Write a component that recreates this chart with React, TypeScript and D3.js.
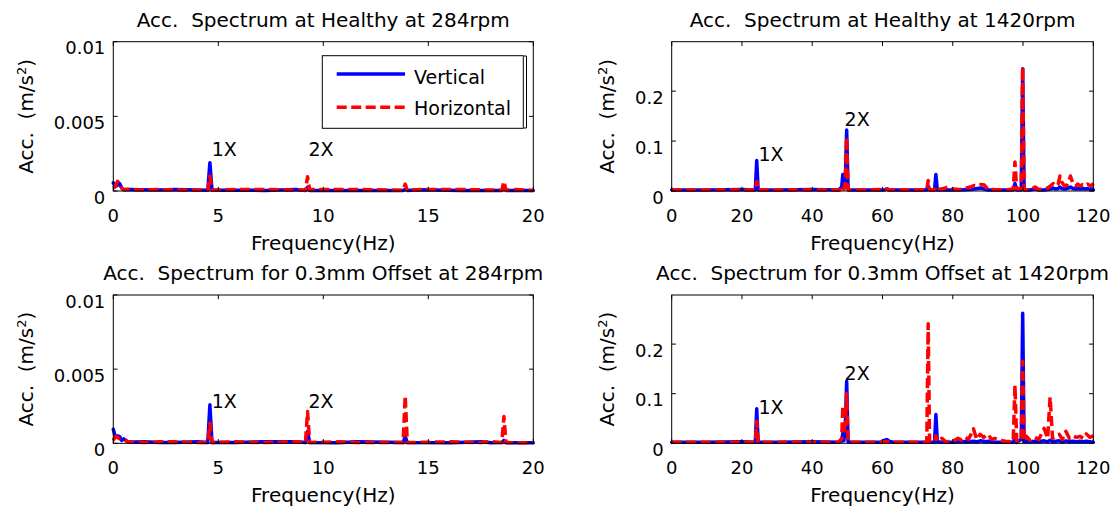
import React from 'react';
import * as d3 from 'd3';

const FONT = '"DejaVu Sans", Arial, sans-serif';

// ---------- text ----------
const titleHealthy284 = 'Acc.  Spectrum at Healthy at 284rpm';
const titleHealthy1420 = 'Acc.  Spectrum at Healthy at 1420rpm';
const titleOffset284 = 'Acc.  Spectrum for 0.3mm Offset at 284rpm';
const titleOffset1420 = 'Acc.  Spectrum for 0.3mm Offset at 1420rpm';
const xLabelText = 'Frequency(Hz)';
const legendLabels = ['Vertical', 'Horizontal'];
const harmonicLabels = ['1X', '2X'];

// ---------- axes ----------
const xDomain284 = [0, 20];
const yDomain284 = [0, 0.01];
const xTicks284 = [0, 5, 10, 15, 20];
const yTicks284 = [0, 0.005, 0.01];
const yTickLabels284 = ['0', '0.005', '0.01'];

const xDomain1420 = [0, 120];
const yDomain1420 = [0, 0.299];
const xTicks1420 = [0, 20, 40, 60, 80, 100, 120];
const yTicks1420 = [0, 0.1, 0.2];
const yTickLabels1420 = ['0', '0.1', '0.2'];

// ---------- data: Healthy 284 rpm ----------
const healthy284Freq = [0, 0.1, 0.2, 0.3, 0.4, 0.5, 0.8, 1.2, 2.2, 2.9, 4.5, 4.6, 4.7, 5.8, 7.2, 8.7, 9.15, 9.25, 9.35, 11.8, 13.8, 13.9, 14.0, 14.6, 16.6, 18.5, 18.6, 18.7, 19.2, 20];
const healthy284Vert = [0.00055, 0.0003, 0.0004, 0.0005, 0.0002, 0.00008, 0.0001, 0.00008, 0.00006, 0.0001, 0.00005, 0.0019, 0.00005, 0.00005, 0.00004, 0.0001, 0.00004, 0.00025, 0.00004, 0.00004, 0.00004, 0.0001, 0.00004, 0.00008, 0.00004, 0.00004, 0.00025, 0.00004, 0.00004, 0.00003];
const healthy284Horz = [0.0002, 0.0003, 0.00065, 0.0005, 0.0002, 0.0001, 0.00012, 0.00006, 0.0001, 0.00006, 0.00005, 0.001, 0.00005, 0.0001, 0.0001, 0.00005, 0.00005, 0.00095, 0.0001, 0.0001, 0.00005, 0.00046, 0.00005, 0.0001, 0.0001, 0.00005, 0.00064, 0.00005, 0.0001, 0.00003];
const healthy284HarmFreq = [4.69, 9.29];
const healthy284HarmAmp = [0.00232, 0.00232];

// ---------- data: Offset 284 rpm ----------
const offset284Freq = [0, 0.1, 0.2, 0.3, 0.4, 0.5, 0.7, 1.0, 1.5, 2.2, 2.9, 4.0, 4.5, 4.6, 4.7, 5.8, 7.1, 8.7, 9.15, 9.25, 9.35, 10.7, 11.6, 13.8, 13.9, 14.0, 16.1, 17.5, 18.0, 18.5, 18.6, 18.7, 20];
const offset284Vert = [0.00095, 0.0004, 0.0005, 0.00045, 0.0002, 0.0003, 0.0001, 0.00008, 0.0001, 0.00006, 0.00006, 0.0001, 0.00005, 0.0026, 0.00005, 0.00005, 0.0001, 0.0001, 0.00005, 0.0008, 0.00005, 0.00004, 0.0001, 0.00005, 0.00046, 0.00005, 0.00004, 0.0001, 0.00004, 0.00005, 0.0002, 0.00004, 0.00003];
const offset284Horz = [0.0002, 0.00046, 0.0004, 0.0003, 0.0003, 0.00025, 0.0001, 0.00008, 0.00005, 0.0001, 0.0001, 0.00005, 0.00005, 0.00136, 0.00005, 0.0001, 0.00005, 0.0001, 0.00005, 0.00214, 0.00005, 0.0001, 0.00005, 0.00005, 0.0032, 0.00005, 0.0001, 0.00005, 0.00012, 0.00005, 0.0018, 0.00005, 0.00003];
const offset284HarmFreq = [4.69, 9.29];
const offset284HarmAmp = [0.00237, 0.00237];

// ---------- data: Healthy 1420 rpm ----------
const healthy1420Freq = [0, 10, 20, 23.8, 24.2, 24.6, 30, 40, 47.5, 48.4, 48.7, 49.0, 49.4, 49.8, 50.2, 51, 55, 60.5, 61.2, 62, 70, 72.6, 73.0, 73.4, 74.8, 75.2, 75.6, 77.5, 78.5, 79.5, 82, 85, 86, 87, 88, 89, 90, 95, 97.2, 97.7, 98.2, 99.5, 99.9, 100.3, 102, 103.4, 104.5, 106, 107, 107.8, 108.6, 109.2, 110, 110.5, 111, 111.8, 112.5, 113, 113.5, 114.2, 115, 115.6, 116.3, 117, 117.7, 118.4, 119.1, 119.6, 120];
const healthy1420Vert = [0.002, 0.002, 0.003, 0.002, 0.061, 0.002, 0.002, 0.003, 0.002, 0.008, 0.033, 0.005, 0.02, 0.122, 0.003, 0.002, 0.002, 0.002, 0.004, 0.002, 0.002, 0.002, 0.01, 0.002, 0.002, 0.033, 0.002, 0.002, 0.002, 0.002, 0.002, 0.003, 0.004, 0.005, 0.006, 0.004, 0.002, 0.002, 0.002, 0.015, 0.002, 0.002, 0.245, 0.002, 0.002, 0.004, 0.002, 0.002, 0.003, 0.004, 0.006, 0.004, 0.005, 0.008, 0.005, 0.004, 0.005, 0.006, 0.008, 0.005, 0.004, 0.005, 0.004, 0.005, 0.004, 0.005, 0.003, 0.004, 0.002];
const healthy1420Horz = [0.002, 0.002, 0.002, 0.002, 0.019, 0.002, 0.002, 0.002, 0.002, 0.003, 0.01, 0.004, 0.015, 0.108, 0.002, 0.002, 0.002, 0.003, 0.004, 0.002, 0.002, 0.002, 0.021, 0.002, 0.002, 0.008, 0.003, 0.005, 0.008, 0.004, 0.003, 0.008, 0.011, 0.01, 0.013, 0.012, 0.003, 0.002, 0.004, 0.058, 0.004, 0.004, 0.248, 0.003, 0.002, 0.008, 0.003, 0.004, 0.006, 0.01, 0.015, 0.01, 0.014, 0.03, 0.018, 0.01, 0.012, 0.02, 0.03, 0.015, 0.01, 0.014, 0.01, 0.013, 0.011, 0.014, 0.01, 0.012, 0.015];
const healthy1420HarmFreq = [24.7, 49.2];
const healthy1420HarmAmp = [0.0598, 0.13];

// ---------- data: Offset 1420 rpm ----------
const offset1420Freq = [0, 10, 20, 23.8, 24.2, 24.6, 30, 40, 47.5, 48.4, 48.7, 49.0, 49.4, 49.8, 50.2, 51, 55, 59.5, 60.5, 61.2, 62, 63, 70, 72.6, 73.0, 73.4, 74.8, 75.2, 75.6, 76.9, 78, 80, 81.5, 82.5, 83.5, 84.5, 85.9, 86.8, 87.8, 88.8, 89.5, 90.1, 91, 92, 93.5, 95, 96.5, 97.2, 97.7, 98.2, 99.5, 99.9, 100.3, 101, 102, 103.4, 104.5, 106, 107, 107.7, 108.4, 109.3, 110.3, 111.2, 112.2, 113.2, 114.2, 115.2, 116.2, 117.2, 118, 119, 120];
const offset1420Vert = [0.002, 0.002, 0.003, 0.002, 0.0695, 0.002, 0.002, 0.003, 0.002, 0.005, 0.02, 0.005, 0.03, 0.125, 0.003, 0.002, 0.002, 0.002, 0.006, 0.0075, 0.004, 0.002, 0.002, 0.002, 0.005, 0.002, 0.002, 0.058, 0.003, 0.002, 0.002, 0.002, 0.003, 0.004, 0.003, 0.003, 0.004, 0.003, 0.005, 0.004, 0.003, 0.004, 0.003, 0.002, 0.002, 0.002, 0.002, 0.002, 0.01, 0.002, 0.008, 0.262, 0.003, 0.003, 0.003, 0.004, 0.003, 0.005, 0.003, 0.006, 0.003, 0.004, 0.005, 0.003, 0.005, 0.003, 0.004, 0.003, 0.004, 0.003, 0.004, 0.003, 0.002];
const offset1420Horz = [0.002, 0.002, 0.002, 0.002, 0.0446, 0.002, 0.002, 0.002, 0.002, 0.01, 0.076, 0.02, 0.04, 0.1, 0.003, 0.002, 0.002, 0.002, 0.003, 0.003, 0.002, 0.002, 0.002, 0.002, 0.241, 0.003, 0.003, 0.015, 0.004, 0.01, 0.003, 0.004, 0.01, 0.006, 0.012, 0.008, 0.029, 0.008, 0.018, 0.012, 0.015, 0.018, 0.008, 0.01, 0.006, 0.004, 0.003, 0.004, 0.117, 0.005, 0.005, 0.165, 0.004, 0.014, 0.006, 0.012, 0.008, 0.03, 0.01, 0.093, 0.01, 0.015, 0.018, 0.008, 0.024, 0.01, 0.015, 0.012, 0.014, 0.01, 0.019, 0.012, 0.015];
const offset1420HarmFreq = [24.7, 49.2];
const offset1420HarmAmp = [0.059, 0.127];

// ---------- layout ----------
const COLS = [
  { left: 113.3, right: 533.3, yLabelX: 33.3 },
  { left: 671.7, right: 1093.3, yLabelX: 614 },
];
const ROWS = [
  { top: 41.7, bottom: 191 },
  { top: 295, bottom: 443.3 },
];
const BLUE = '#0000ff';
const RED = '#ff0000';
const LW = 3.5;
const DASH = '10,4.5';
const TICK = 4.2;

type PanelProps = {
  col: typeof COLS[0];
  row: typeof ROWS[0];
  title: string;
  xDomain: number[];
  yDomain: number[];
  xTicks: number[];
  yTicks: number[];
  yTickLabels: string[];
  freq: number[];
  vert: number[];
  horz: number[];
  harmFreq: number[];
  harmAmp: number[];
  legend?: boolean;
};

function Panel(p: PanelProps) {
  const { col, row } = p;
  const x = d3.scaleLinear().domain(p.xDomain).range([col.left, col.right]);
  const y = d3.scaleLinear().domain(p.yDomain).range([row.bottom, row.top]);
  const line = d3
    .line<number>()
    .x((_, i) => x(p.freq[i]))
    .y((d) => y(d));
  const cx = (col.left + col.right) / 2;
  const cy = (row.top + row.bottom) / 2;
  return (
    <g>
      <text x={cx} y={row.top - 15} textAnchor="middle" fontSize={20} style={{ whiteSpace: 'pre' }}>
        {p.title}
      </text>
      <path d={line(p.vert) || ''} fill="none" stroke={BLUE} strokeWidth={LW} strokeLinejoin="round" strokeLinecap="round" />
      <path d={line(p.horz) || ''} fill="none" stroke={RED} strokeWidth={LW} strokeLinejoin="round" strokeDasharray={DASH} />
      {p.harmFreq.map((f, i) => (
        <text key={'h' + i} x={x(f)} y={y(p.harmAmp[i])} fontSize={19}>
          {harmonicLabels[i]}
        </text>
      ))}
      <rect x={col.left} y={row.top} width={col.right - col.left} height={row.bottom - row.top} fill="none" stroke="#000" strokeWidth={1} />
      {p.xTicks.map((t) => (
        <g key={'xt' + t}>
          <line x1={x(t)} x2={x(t)} y1={row.bottom} y2={row.bottom - TICK} stroke="#000" />
          <line x1={x(t)} x2={x(t)} y1={row.top} y2={row.top + TICK} stroke="#000" />
          <text x={x(t)} y={row.bottom + 31} textAnchor="middle" fontSize={18}>
            {t}
          </text>
        </g>
      ))}
      {p.yTicks.map((t, i) => (
        <g key={'yt' + i}>
          <line x1={col.left} x2={col.left + TICK} y1={y(t)} y2={y(t)} stroke="#000" />
          <line x1={col.right} x2={col.right - TICK} y1={y(t)} y2={y(t)} stroke="#000" />
          <text x={col.left - 8} y={y(t) + 12.5} textAnchor="end" fontSize={18}>
            {p.yTickLabels[i]}
          </text>
        </g>
      ))}
      <text x={cx} y={row.bottom + 58.5} textAnchor="middle" fontSize={20}>
        {xLabelText}
      </text>
      <text transform={`translate(${col.yLabelX},${cy}) rotate(-90)`} textAnchor="middle" fontSize={20} style={{ whiteSpace: 'pre' }}>
        {'Acc.  (m/s'}
        <tspan dy={-7} fontSize={13}>2</tspan>
        <tspan dy={7}>)</tspan>
      </text>
      {p.legend && (
        <g>
          <rect x={322.3} y={55.7} width={201} height={72.6} fill="#fff" stroke="#000" strokeWidth={1} />
          <line x1={526.5} x2={526.5} y1={56} y2={128} stroke="#000" />
          <line x1={524} x2={526.5} y1={56} y2={56} stroke="#000" />
          <line x1={524} x2={526.5} y1={128} y2={128} stroke="#000" />
          <line x1={336.7} x2={405} y1={74} y2={74} stroke={BLUE} strokeWidth={LW} />
          <line x1={336.7} x2={405} y1={107.3} y2={107.3} stroke={RED} strokeWidth={LW} strokeDasharray={DASH} />
          <text x={414} y={83.6} fontSize={19}>{legendLabels[0]}</text>
          <text x={414} y={115.2} fontSize={19}>{legendLabels[1]}</text>
        </g>
      )}
    </g>
  );
}

export default function App() {
  return (
    <svg
      width={1119}
      height={508}
      style={{ position: 'absolute', left: 0, top: 0, display: 'block', background: '#fff' }}
      fontFamily={FONT}
    >
      <rect x={0} y={0} width={1119} height={508} fill="#fff" />
      <Panel col={COLS[0]} row={ROWS[0]} title={titleHealthy284} xDomain={xDomain284} yDomain={yDomain284} xTicks={xTicks284} yTicks={yTicks284} yTickLabels={yTickLabels284} freq={healthy284Freq} vert={healthy284Vert} horz={healthy284Horz} harmFreq={healthy284HarmFreq} harmAmp={healthy284HarmAmp} legend />
      <Panel col={COLS[1]} row={ROWS[0]} title={titleHealthy1420} xDomain={xDomain1420} yDomain={yDomain1420} xTicks={xTicks1420} yTicks={yTicks1420} yTickLabels={yTickLabels1420} freq={healthy1420Freq} vert={healthy1420Vert} horz={healthy1420Horz} harmFreq={healthy1420HarmFreq} harmAmp={healthy1420HarmAmp} />
      <Panel col={COLS[0]} row={ROWS[1]} title={titleOffset284} xDomain={xDomain284} yDomain={yDomain284} xTicks={xTicks284} yTicks={yTicks284} yTickLabels={yTickLabels284} freq={offset284Freq} vert={offset284Vert} horz={offset284Horz} harmFreq={offset284HarmFreq} harmAmp={offset284HarmAmp} />
      <Panel col={COLS[1]} row={ROWS[1]} title={titleOffset1420} xDomain={xDomain1420} yDomain={yDomain1420} xTicks={xTicks1420} yTicks={yTicks1420} yTickLabels={yTickLabels1420} freq={offset1420Freq} vert={offset1420Vert} horz={offset1420Horz} harmFreq={offset1420HarmFreq} harmAmp={offset1420HarmAmp} />
    </svg>
  );
}
